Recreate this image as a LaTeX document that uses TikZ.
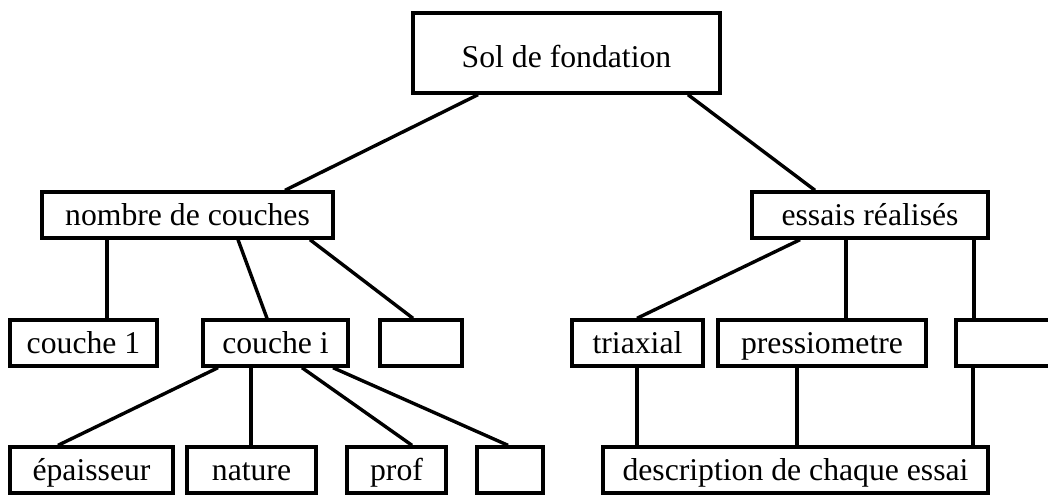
\documentclass[tikz,border=0pt]{standalone}
\usepackage{fontspec}
\setmainfont{Liberation Serif}
\usetikzlibrary{positioning,arrows.meta}

\begin{document}
\begin{tikzpicture}[x=1pt, y=-1pt,
        box/.style={draw, line width=3.4pt, inner sep=0pt, minimum height=46pt,
            text height=27pt, text depth=7pt, font=\fontsize{31.7}{38}\selectfont},
        lien/.style={line width=3.4pt}]
        \useasboundingbox (0,0) rectangle (1048,495);
        % racine
        \node[box, minimum width=307pt, minimum height=80pt, text height=35pt] (sol) at (566.5,53) {Sol de fondation};
        % deuxieme niveau
        \node[box, minimum width=291pt] (nombre) at (187.5,215) {nombre de couches};
        \node[box, minimum width=236pt] (essais) at (870,215) {essais réalisés};
        % troisieme niveau
        \foreach \x/\w/\nom/\texte in {83.5/147/couche1/couche 1, 275.5/145/couchei/couche i, 421/82/vide1/,
                637.5/131/triaxial/triaxial, 822/208/pressio/pressiometre, 1018/124/vide2/}
            {\node[box, minimum width=\w pt] (\nom) at (\x,343) {\texte};}
        % dernier niveau
        \foreach \x/\w/\nom/\texte in {91.5/163/epaisseur/épaisseur, 251.5/129/nature/nature, 396.5/99/prof/prof,
                510/66/vide3/, 795.5/385/description/description de chaque essai}
            {\node[box, minimum width=\w pt] (\nom) at (\x,470) {\texte};}
        % liaisons (depart en bas, arrivee en haut)
        \foreach \a/\xa/\b/\xb in {sol/478/nombre/285, sol/688/essais/815,
                nombre/107/couche1/107, nombre/238/couchei/267, nombre/310/vide1/413,
                essais/800/triaxial/637, essais/846/pressio/846, essais/974/vide2/974,
                couchei/218/epaisseur/58, couchei/251/nature/251, couchei/302/prof/412, couchei/333/vide3/508,
                triaxial/637/description/637, pressio/797/description/797, vide2/973/description/973}
            {\draw[lien] (\a.south -| \xa,0) -- (\b.north -| \xb,0);}
    \end{tikzpicture}
\end{document}
